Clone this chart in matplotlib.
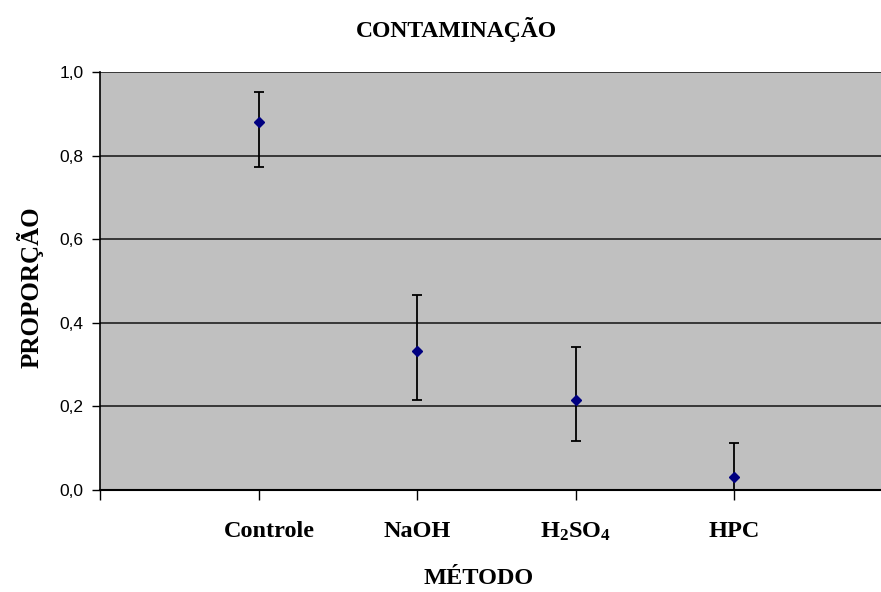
import matplotlib.pyplot as plt
from matplotlib.transforms import ScaledTranslation
import numpy as np

plt.rcParams['mathtext.fontset'] = 'custom'
plt.rcParams['mathtext.bf'] = 'Liberation Serif:bold'
plt.rcParams['mathtext.rm'] = 'Liberation Serif'

# proportion of contaminated samples per method, with interval limits
metodos = ['Controle', 'NaOH', r'$\mathbf{H_2SO_4}$', 'HPC']
proporcao = [0.880, 0.333, 0.215, 0.030]
limite_sup = [0.952, 0.466, 0.342, 0.112]
limite_inf = [0.773, 0.216, 0.118, 0.0]

x = np.arange(1, len(metodos) + 1)
prop = np.array(proporcao)
erro = [prop - np.array(limite_inf), np.array(limite_sup) - prop]

fig = plt.figure(figsize=(8.81, 5.92), dpi=100)
ax = fig.add_axes([100 / 881, 1 - 490 / 592, 792.5 / 881, 418 / 592])
ax.set_facecolor('#c0c0c0')

ax.errorbar(x, prop, yerr=erro, fmt='none', ecolor='black', elinewidth=1.3,
            capsize=3.8, capthick=1.3, zorder=3)
ax.plot(x, prop, 'D', color='#000080', markersize=5, zorder=4)

ax.set_xlim(0, 5)
ax.set_ylim(0, 1.0)
ax.set_yticks(np.arange(0, 1.01, 0.2))
ax.set_yticklabels([f'{v:.1f}'.replace('.', ',') for v in np.arange(0, 1.01, 0.2)],
                   fontfamily='Liberation Sans', fontsize=12.5)
ax.yaxis.grid(True, color='#202020', linewidth=1.2)
ax.set_axisbelow(True)

ax.set_xticks(np.arange(0, 6))
ax.set_xticklabels([''] + metodos + [''], fontfamily='Liberation Serif',
                   fontweight='bold', fontsize=17.5)
ax.tick_params(axis='x', length=7, width=1, pad=15)
ax.tick_params(axis='y', length=6, width=1, pad=6)

# first category label sits a bit right of its tick
lab = ax.get_xticklabels()[1]
lab.set_transform(lab.get_transform() + ScaledTranslation(0.11, 0, fig.dpi_scale_trans))

for s in ['top', 'right']:
    ax.spines[s].set_visible(False)
ax.spines['left'].set_linewidth(1.2)
ax.spines['bottom'].set_linewidth(1.5)

fig.text(456 / 881, 1 - 30 / 592, 'CONTAMINAÇÃO', fontfamily='Liberation Serif',
         fontweight='bold', fontsize=17, ha='center', va='center')
fig.text(479 / 881, 1 - 578 / 592, 'MÉTODO', fontfamily='Liberation Serif',
         fontweight='bold', fontsize=17.5, ha='center', va='center')
fig.text(30 / 881, 1 - 287 / 592, 'PROPORÇÃO', fontfamily='Liberation Serif',
         fontweight='bold', fontsize=18, ha='center', va='center', rotation=90)

fig.savefig('out.png', dpi=100)
